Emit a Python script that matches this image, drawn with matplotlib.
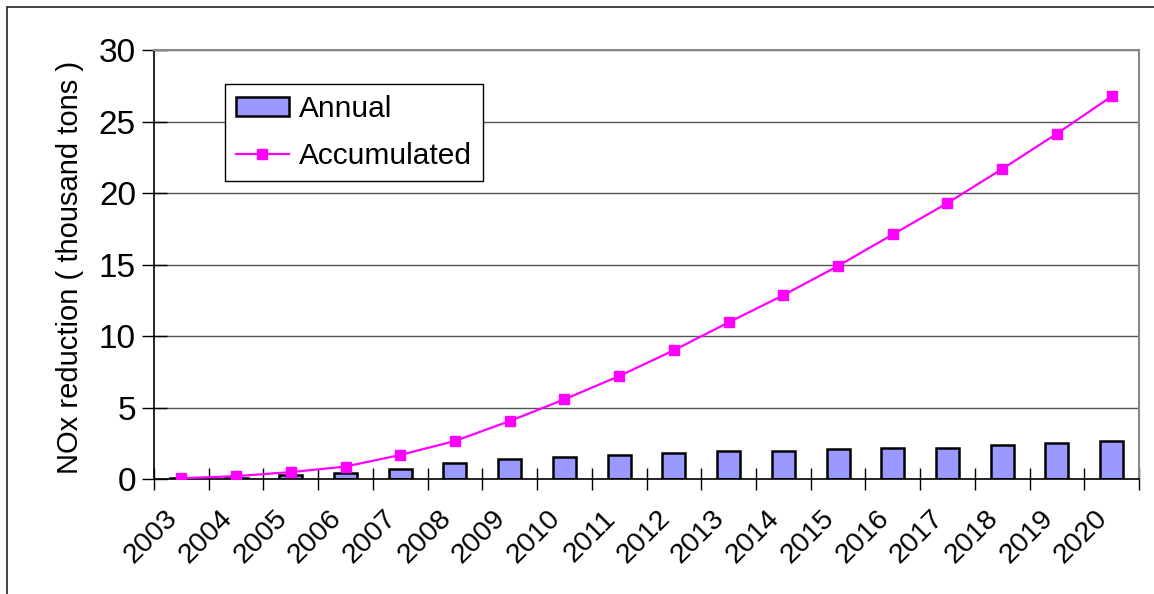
import numpy as np
import matplotlib
matplotlib.use("Agg")
import matplotlib.pyplot as plt
from matplotlib.patches import Rectangle
from matplotlib.transforms import ScaledTranslation

years = [str(y) for y in range(2003, 2021)]
annual = [0.05, 0.1, 0.28, 0.42, 0.7, 1.12, 1.38, 1.53, 1.65, 1.82, 1.96, 1.96,
          2.07, 2.2, 2.19, 2.35, 2.52, 2.63]
accumulated = [0.05, 0.2, 0.48, 0.87, 1.68, 2.66, 4.05, 5.57, 7.2, 9.0, 10.95,
               12.85, 14.9, 17.1, 19.3, 21.68, 24.15, 26.76]

plt.rcParams['font.family'] = ['Liberation Sans', 'DejaVu Sans']

fig = plt.figure(figsize=(11.54, 5.94), dpi=100)
ax = fig.add_axes([154/1154, 1 - 479/594, 985/1154, 429/594])

x = np.arange(len(years))
bars = ax.bar(x, annual, width=0.42, color='#9999FF', edgecolor='black', linewidth=1.8,
              label='Annual', zorder=2)
line, = ax.plot(x, accumulated, color='#FF00FF', linewidth=1.6, marker='s', markersize=7.5,
                label='Accumulated', zorder=3)

ax.set_xlim(-0.5, len(years) - 0.5)
ax.set_ylim(0, 30)
ax.set_yticks(range(0, 31, 5))
ax.yaxis.grid(True, color='#555555', linewidth=1)
ax.set_axisbelow(True)

ax.set_xticks(x)
ax.set_xticklabels(years, rotation=45, ha='right', rotation_mode='anchor')
ax.set_xticks(np.arange(-0.5, len(years), 1), minor=True)
ax.tick_params(axis='x', which='major', length=0, pad=19, labelsize=20.5)
ax.tick_params(axis='x', which='minor', direction='inout', length=16, width=1)
ax.tick_params(axis='y', direction='inout', length=18, width=1, labelsize=24, pad=4)
shift = ScaledTranslation(-17/100, 0, fig.dpi_scale_trans)
for lbl in ax.get_xticklabels():
    lbl.set_transform(lbl.get_transform() + shift)

ax.set_ylabel('NOx reduction\u00a0( thousand tons )', fontsize=21)
ax.yaxis.set_label_coords((84 - 154) / 985, (479 - 267) / 429)

for s in ['top', 'right']:
    ax.spines[s].set_color('#888888')
    ax.spines[s].set_linewidth(1.5)
for s in ['left', 'bottom']:
    ax.spines[s].set_color('black')
    ax.spines[s].set_linewidth(1.2)

leg = ax.legend([bars, line], ['Annual', 'Accumulated'], loc='upper left',
                bbox_to_anchor=(71/985, 395/429), borderaxespad=0, fontsize=21.5,
                frameon=True, fancybox=False, edgecolor='black', framealpha=1,
                handlelength=1.75, handleheight=0.6, handletextpad=0.33,
                borderpad=0.38, labelspacing=0.62)
leg.get_frame().set_linewidth(1)

fig.patches.append(Rectangle((7/1154, -0.1), 1.2, 1 - 7/594 + 0.1, transform=fig.transFigure,
                             fill=False, edgecolor='#222222', linewidth=1.2))

fig.savefig('out.png', dpi=100)
